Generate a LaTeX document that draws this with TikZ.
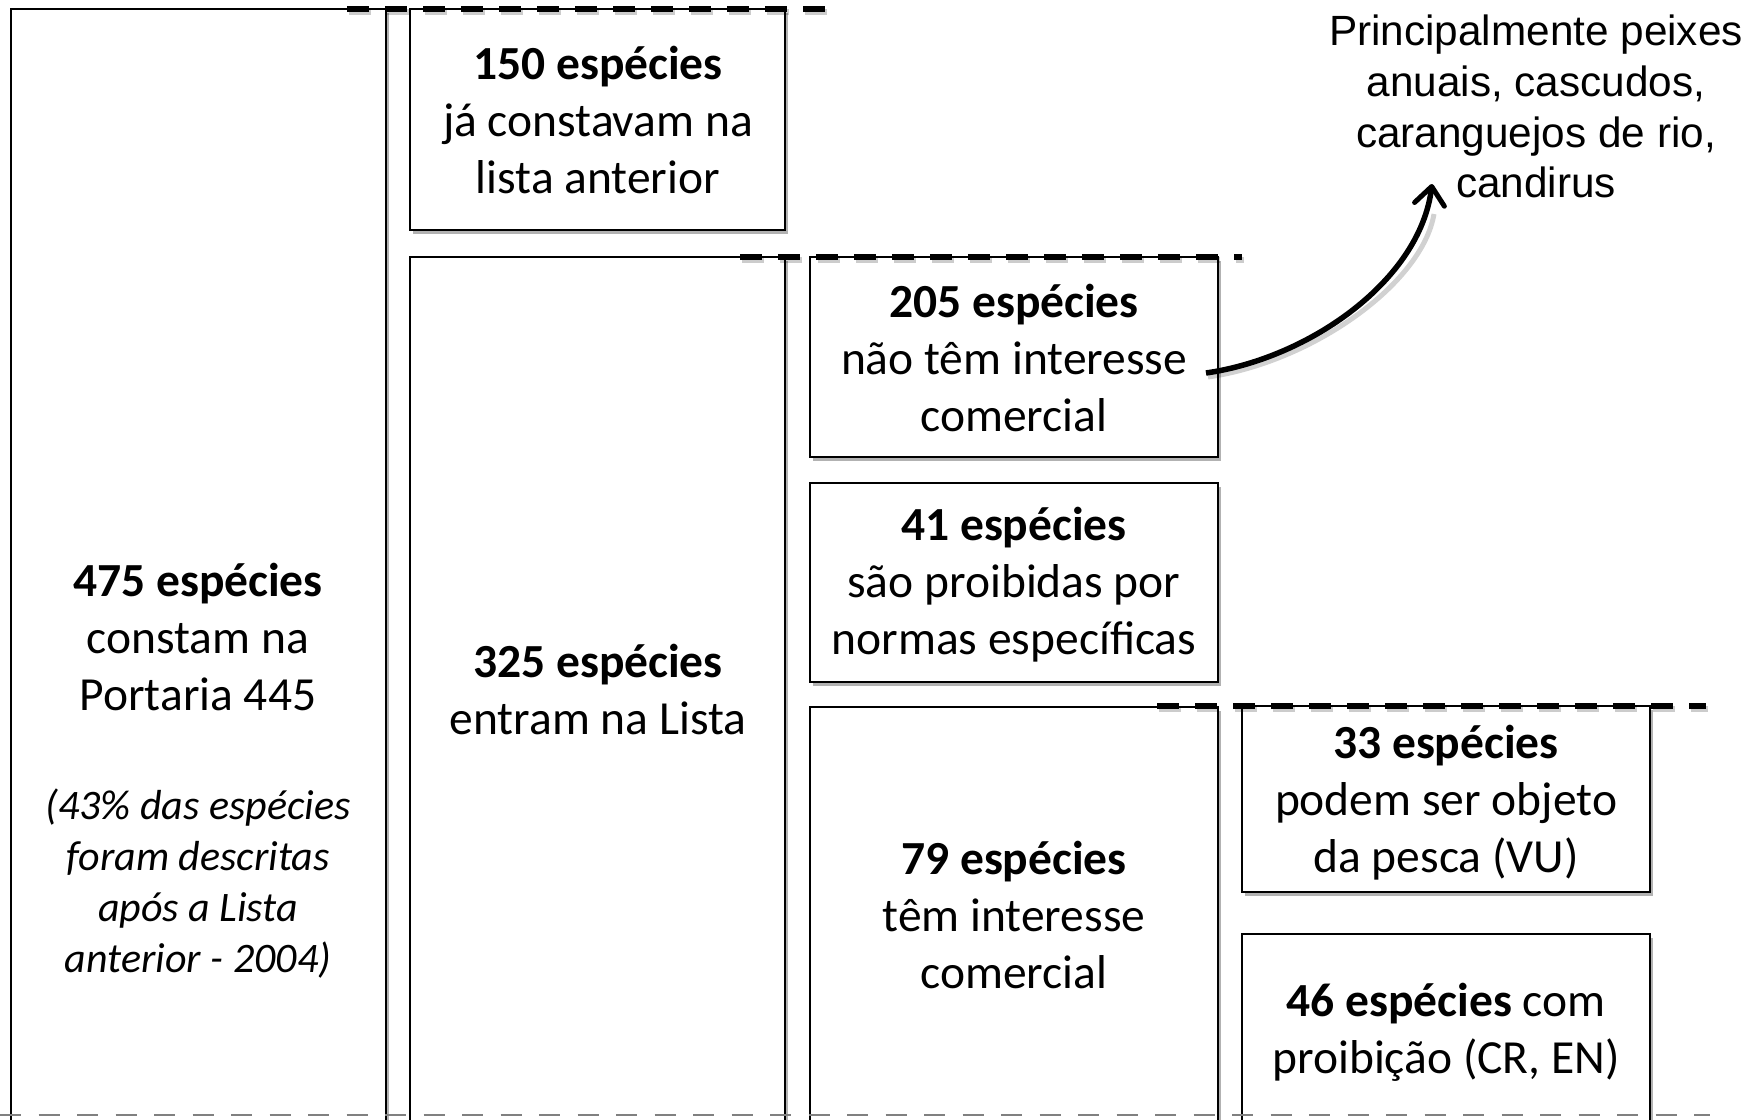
\documentclass[tikz,border=0pt]{standalone}
\usepackage{fontspec}
\setmainfont{Carlito}
\newfontfamily\arialf{Liberation Sans}
\usetikzlibrary{arrows.meta,shadows}
\begin{document}
\begin{tikzpicture}[x=1pt,y=-1pt,
  box/.style={draw=black, line width=1.6pt, fill=white, inner sep=0pt, outer sep=0pt, anchor=north west,
    drop shadow={shadow xshift=2.5pt, shadow yshift=-3.5pt, opacity=0.3, fill=black}},
  txt/.style={align=center, font=\fontsize{47.5}{57}\selectfont, inner sep=0pt},
  itxt/.style={align=center, font=\fontsize{42}{51}\selectfont\itshape, inner sep=0pt},
  atxt/.style={align=center, font=\fontsize{42.3}{50.8}\selectfont\arialf, inner sep=0pt},
  sep/.style={line width=6pt, dash pattern=on 22pt off 16pt},
  sepshadow/.style={line width=6pt, dash pattern=on 22pt off 16pt, black, opacity=0.2},
  basesep/.style={line width=2.5pt, dash pattern=on 21pt off 17.5pt, black!50},
  arrowline/.style={line width=5.5pt, -{Straight Barb[length=18pt,width=30pt,line width=5pt,round]}}
]
\useasboundingbox (0,0) rectangle (1758,1119);
\clip (0,0) rectangle (1758,1119);
\fill[white] (0,0) rectangle (1758,1119);

% boxes
\node[box, minimum width=375pt, minimum height=1121pt] (b475) at (11,9) {};
\node[box, minimum width=375pt, minimum height=221pt] (b150) at (410,9) {};
\node[box, minimum width=375pt, minimum height=873pt] (b325) at (410,257) {};
\node[box, minimum width=408pt, minimum height=200pt] (b205) at (810,257) {};
\node[box, minimum width=408pt, minimum height=199pt] (b41) at (810,483) {};
\node[box, minimum width=408pt, minimum height=423pt] (b79) at (810,707) {};
\node[box, minimum width=408pt, minimum height=186pt] (b33) at (1242,706) {};
\node[box, minimum width=408pt, minimum height=196pt] (b46) at (1242,934) {};

% texts
\node[txt] (t475) at (198,637) {\textbf{475 espécies}\\constam na\\Portaria 445};
\node[itxt] (t475i) at (198,884) {(43\% das espécies\\foram descritas\\após a Lista\\anterior - 2004)};
\node[txt] (t150) at (598,120) {\textbf{150 espécies}\\já constavam na\\lista anterior};
\node[txt] (t325) at (598,689) {\textbf{325 espécies}\\entram na Lista};
\node[txt] (t205) at (1014,358.5) {\textbf{205 espécies}\\não têm interesse\\comercial};
\node[txt] (t41) at (1014,585) {\textbf{41 espécies}\\são proibidas por\\normas específicas};
\node[txt] (t79) at (1014,915) {\textbf{79 espécies}\\têm interesse\\comercial};
\node[txt] (t33) at (1446,803) {\textbf{33 espécies}\\podem ser objeto\\da pesca (VU)};
\node[txt] (t46) at (1446,1032) {\textbf{46 espécies} com\\proibição (CR, EN)};
\node[atxt] (ann) at (1536,106.5) {Principalmente peixes\\anuais, cascudos,\\caranguejos de rio,\\candirus};

% separators
\draw[sepshadow] (349,12) -- (827,12);
\draw[sep] (347,9) -- (825,9);
\draw[sepshadow] (742,260) -- (1244,260);
\draw[sep] (740,257) -- (1242,257);
\draw[sepshadow] (1159,709) -- (1708,709);
\draw[sep] (1157,706) -- (1706,706);
\draw[basesep] (0,1115) -- (1710,1115);

% arrow
\coordinate (as) at (1206,373);
\coordinate (ae) at (1432,184);
\draw[line width=5pt, black, opacity=0.18] ([shift={(2,4)}]as) .. controls (1312,362) and (1422,284) .. ([shift={(2,30)}]ae);
\draw[arrowline] (as) .. controls (1310,358) and (1420,280) .. (ae);
\end{tikzpicture}
\end{document}
